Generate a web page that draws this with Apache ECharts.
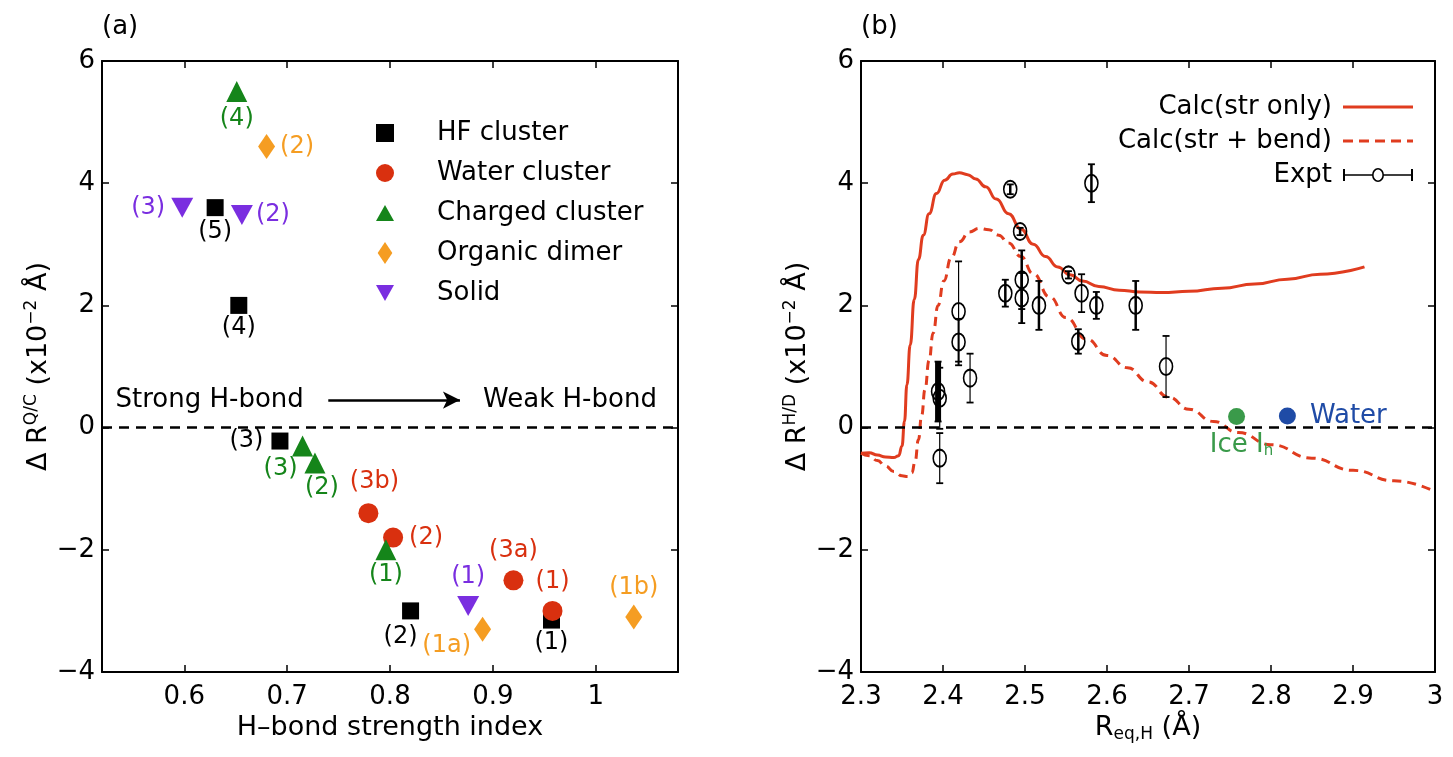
<!DOCTYPE html>
<html><head><meta charset="utf-8">
<script src="https://cdn.jsdelivr.net/npm/echarts@6/dist/echarts.min.js"></script>
<style>html,body{margin:0;padding:0;background:#fff}#chart{width:1453px;height:757px}</style>
</head><body><div id="chart"></div>
<script>
// ---------------- data ----------------
const hfCluster = [[0.630,3.60],[0.653,2.00],[0.693,-0.22],[0.820,-3.00],[0.957,-3.15]];
const hfLabels = ['(5)','(4)','(3)','(2)','(1)'];
const waterCluster = [[0.779,-1.40],[0.803,-1.80],[0.920,-2.50],[0.958,-3.00]];
const waterLabels = ['(3b)','(2)','(3a)','(1)'];
const chargedCluster = [[0.651,5.50],[0.715,-0.30],[0.727,-0.58],[0.796,-2.00]];
const chargedLabels = ['(4)','(3)','(2)','(1)'];
const organicDimer = [[0.680,4.60],[0.890,-3.30],[1.037,-3.10]];
const organicLabels = ['(2)','(1a)','(1b)'];
const solidPts = [[0.598,3.60],[0.656,3.48],[0.876,-2.92]];
const solidLabels = ['(3)','(2)','(1)'];
const annotationTexts = ['Strong H-bond','Weak H-bond'];
const annotationPos = [[0.6247,0.45],[0.975,0.45]];
const arrowFromTo = [[0.740,0.45],[0.868,0.45]];

const strengthTicks = [0.6,0.7,0.8,0.9,1];
const rTicks = [2.3,2.4,2.5,2.6,2.7,2.8,2.9,3];
const yTicks = [-4,-2,0,2,4,6];

const calcStrOnly = [[2.300,-0.42],[2.310,-0.41],[2.320,-0.45],[2.330,-0.48],[2.340,-0.49],[2.346,-0.46],
  [2.350,-0.30],[2.353,0.10],[2.356,0.70],[2.360,1.35],[2.365,2.10],[2.370,2.75],[2.376,3.15],[2.383,3.50],
  [2.392,3.83],[2.402,4.05],[2.412,4.15],[2.420,4.17],[2.430,4.14],[2.440,4.07],[2.452,3.94],[2.465,3.74],
  [2.480,3.50],[2.495,3.25],[2.510,3.00],[2.525,2.80],[2.540,2.63],[2.555,2.50],[2.570,2.40],[2.590,2.31],
  [2.615,2.25],[2.640,2.22],[2.667,2.21],[2.700,2.23],[2.740,2.28],[2.780,2.35],[2.820,2.43],[2.860,2.51],
  [2.914,2.63]];
const calcStrBend = [[2.300,-0.42],[2.310,-0.46],[2.320,-0.54],[2.330,-0.63],[2.340,-0.72],[2.350,-0.79],
  [2.357,-0.80],[2.362,-0.74],[2.366,-0.55],[2.370,-0.20],[2.374,0.20],[2.378,0.62],[2.383,1.10],[2.388,1.55],
  [2.394,2.00],[2.401,2.40],[2.410,2.78],[2.420,3.04],[2.432,3.20],[2.444,3.26],[2.456,3.24],[2.468,3.15],
  [2.480,3.02],[2.495,2.80],[2.510,2.52],[2.530,2.14],[2.550,1.80],[2.575,1.45],[2.600,1.18],[2.625,0.98],
  [2.650,0.75],[2.675,0.50],[2.700,0.30],[2.730,0.10],[2.760,-0.08],[2.800,-0.28],[2.850,-0.50],[2.900,-0.70],
  [2.950,-0.87],[3.000,-1.05]];
// [R, value, error]
const expt = [[2.482,3.90,0.08],[2.581,4.00,0.31],[2.494,3.21,0.06],[2.553,2.50,0.06],[2.476,2.20,0.22],
  [2.496,2.42,0.48],[2.496,2.12,0.41],[2.517,2.00,0.40],[2.569,2.20,0.31],[2.587,2.00,0.22],[2.635,2.00,0.40],
  [2.565,1.41,0.20],[2.672,1.00,0.50],[2.419,1.90,0.82],[2.419,1.40,0.38],[2.433,0.81,0.40],[2.394,0.59,0.49],
  [2.396,0.48,0.50],[2.396,-0.50,0.41]];
const iceIh = [[2.758,0.18]];
const waterLiquid = [[2.820,0.19]];

// ---------------- styles ----------------
const exptBarWidth = [2.5,2.5,2.5,2.5,2.5,2.5,2.5,2.5,1.5,2.5,2.5,2.5,1.2,1.2,2,1.2,6,1.2,1.2];
const FONT = 'DejaVu Sans';
const FS = 26;
const hfPlace = [{position:'bottom',distance:4},{position:'bottom',distance:2},{position:'left',distance:8},
  {position:'bottom',distance:5,offset:[-10,0]},{position:'bottom',distance:2}];
const waterPlace = [{position:'top',distance:9,offset:[6,0]},{position:'right',distance:6},{position:'top',distance:8},{position:'top',distance:7}];
const chargedPlace = [{position:'bottom',distance:5},{position:'bottom',distance:0,offset:[-22,0]},
  {position:'bottom',distance:2,offset:[7,0]},{position:'bottom',distance:2}];
const organicPlace = [{position:'right',distance:5},{position:'left',distance:3,offset:[0,17]},{position:'top',distance:5}];
const solidPlace = [{position:'left',distance:6},{position:'right',distance:3},{position:'top',distance:7}];

const C = {hf:'#000000', water:'#d9300f', charged:'#15851a', organic:'#f59d22', solid:'#7a2ee0',
  calc:'#e03c1f', ice:'#3a9a4a', liq:'#1f4ba6'};

function items(points, labels, place){
  return points.map((p,i)=>({value:p, name:labels[i], label:place[i]}));
}
function scatterSeries(name, color, symbol, size, points, labels, place, extra){
  return Object.assign({
    type:'scatter', name:name, xAxisIndex:0, yAxisIndex:0, symbol:symbol, symbolSize:size,
    symbolKeepAspect:false, itemStyle:{color:color, opacity:1}, silent:true, emphasis:{disabled:true},
    label:{show:true, formatter:'{b}', color:color, fontSize:24, fontFamily:FONT},
    data: items(points, labels, place)
  }, extra||{});
}
const downTri = 'path://M0,0L20,0L10,18Z';
const ellipse = 'path://M0,8A6,8 0 1,1 12,8A6,8 0 1,1 0,8Z';
const exptIcon = 'path://M0,1H2V13H0Z M2,6.2H29.2V7.8H2Z M29,7A6,7 0 1,1 41,7A6,7 0 1,1 29,7Z M30.6,7A4.4,5.4 0 1,0 39.4,7A4.4,5.4 0 1,0 30.6,7Z M40.8,6.2H68V7.8H40.8Z M68,1H70V13H68Z';
const solidIcon = 'path://M0,0H70V3.2H0Z';
const dashIcon = 'path://M0,0H10V3H0Z M16,0H26V3H16Z M32,0H42V3H32Z M48,0H58V3H48Z M64,0H70V3H64Z';

const axisLineStyle = {show:true, onZero:false, lineStyle:{color:'#000', width:2}};
const tickStyle = (vals)=>({show:true, inside:true, length:7, lineStyle:{color:'#000', width:1.5}, customValues:vals});
const labelFmt = v => (v < 0 ? '\u2212' + (-v) : String(v));
const nameStyle = {fontSize:27, fontFamily:FONT, color:'#000'};

function xAxes(grid, min, max, ticks, name){
  return [
    {gridIndex:grid, type:'value', min:min, max:max, position:'bottom', axisLine:axisLineStyle,
     axisTick:tickStyle(ticks), splitLine:{show:false},
     axisLabel:{customValues:ticks, fontSize:FS, fontFamily:FONT, color:'#000', margin:12, formatter:labelFmt},
     name:name, nameLocation:'middle', nameGap:40, nameTextStyle:Object.assign({}, nameStyle, {
       rich:{n:{fontSize:27, fontFamily:FONT, color:'#000', lineHeight:30},
             b:{fontSize:17, fontFamily:FONT, color:'#000', lineHeight:12, verticalAlign:'bottom'}}})},
    {gridIndex:grid, type:'value', min:min, max:max, position:'top', axisLine:axisLineStyle,
     axisTick:tickStyle(ticks), axisLabel:{show:false}, splitLine:{show:false}}
  ];
}
function yAxes(grid, name){
  return [
    {gridIndex:grid, type:'value', min:-4, max:6, interval:2, position:'left', axisLine:axisLineStyle,
     axisTick:tickStyle(yTicks), splitLine:{show:false},
     axisLabel:{customValues:yTicks, fontSize:FS, fontFamily:FONT, color:'#000', margin:7, formatter:labelFmt},
     name:name, nameLocation:'middle', nameGap:42, nameTextStyle:Object.assign({}, nameStyle, {
       rich:{n:{fontSize:27, fontFamily:FONT, color:'#000', lineHeight:30, verticalAlign:'bottom'},
             s:{fontSize:17, fontFamily:FONT, color:'#000', lineHeight:8, verticalAlign:'top'}}})},
    {gridIndex:grid, type:'value', min:-4, max:6, interval:2, position:'right', axisLine:axisLineStyle,
     axisTick:tickStyle(yTicks), axisLabel:{show:false}, splitLine:{show:false}}
  ];
}

const zeroLine = {silent:true, symbol:['none','none'], label:{show:false},
  lineStyle:{color:'#000', type:[10,7], width:2.5, opacity:1}, data:[{yAxis:0}]};

const exptBars = expt.map((d,i)=>[d[0], d[1], d[2], exptBarWidth[i]]);

const option = {
  animation:false,
  backgroundColor:'#fff',
  title:[
    {text:'(a)', left:102, top:14, padding:0, textStyle:{fontSize:FS, fontWeight:'normal', fontFamily:FONT, color:'#000'}},
    {text:'(b)', left:861, top:14, padding:0, textStyle:{fontSize:FS, fontWeight:'normal', fontFamily:FONT, color:'#000'}}
  ],
  grid:[
    {left:102, right:775, top:61, bottom:85},
    {left:861, right:18, top:61, bottom:85}
  ],
  legend:[
    {orient:'vertical', left:376, top:120, padding:0, itemWidth:18, itemHeight:22, itemGap:14,
     selectedMode:false, symbolKeepAspect:true,
     textStyle:{fontSize:FS, fontFamily:FONT, color:'#000', lineHeight:26, padding:[0,0,0,38]},
     data:[
       {name:'HF cluster', icon:'path://M0,0H10V10H0Z'},
       {name:'Water cluster', icon:'circle'},
       {name:'Charged cluster', icon:'path://M10,0L20,18L0,18Z'},
       {name:'Organic dimer', icon:'path://M8,0L16,12L8,24L0,12Z'},
       {name:'Solid', icon:'path://M0,0L20,0L10,18Z'}
     ]},
    {orient:'vertical', right:40, top:94, padding:0, itemWidth:70, itemHeight:14, itemGap:8, align:'right',
     selectedMode:false, symbolKeepAspect:true,
     textStyle:{fontSize:FS, fontFamily:FONT, color:'#000', lineHeight:26, padding:[0,6,0,0]},
     data:[
       {name:'Calc(str only)', icon:solidIcon, itemStyle:{color:C.calc, borderWidth:0}},
       {name:'Calc(str + bend)', icon:dashIcon, itemStyle:{color:C.calc, borderWidth:0}},
       {name:'Expt', icon:exptIcon, itemStyle:{color:'#000', borderWidth:0}}
     ]}
  ],
  xAxis:[].concat(
    xAxes(0, 0.52, 1.08, strengthTicks, 'H\u2013bond strength index'),
    xAxes(1, 2.3, 3.0, rTicks, '{n|R}{b|eq,H}{n| (\u00c5)}')
  ),
  yAxis:[].concat(
    yAxes(0, '{n|\u0394 R}{s|Q/C}{n| (x10}{s|\u22122}{n| \u00c5)}'),
    yAxes(1, '{n|\u0394 R}{s|H/D}{n| (x10}{s|\u22122}{n| \u00c5)}')
  ),
  series:[
    // ----- panel (a)
    scatterSeries('HF cluster', C.hf, 'rect', 17, hfCluster, hfLabels, hfPlace, {markLine:zeroLine}),
    scatterSeries('Water cluster', C.water, 'circle', 20, waterCluster, waterLabels, waterPlace),
    scatterSeries('Charged cluster', C.charged, 'triangle', 21, chargedCluster, chargedLabels, chargedPlace),
    scatterSeries('Organic dimer', C.organic, 'diamond', [17,25], organicDimer, organicLabels, organicPlace),
    scatterSeries('Solid', C.solid, downTri, [22,20], solidPts, solidLabels, solidPlace),
    {type:'scatter', name:'annotation', xAxisIndex:0, yAxisIndex:0, symbolSize:0, silent:true,
     itemStyle:{opacity:1},
     label:{show:true, position:'inside', formatter:'{b}', fontSize:FS, fontFamily:FONT, color:'#000', opacity:1},
     data: annotationPos.map((p,i)=>({value:p, name:annotationTexts[i]})),
     markLine:{silent:true, symbol:['none','arrow'], symbolSize:[13,17], label:{show:false},
       lineStyle:{color:'#000', type:'solid', width:2.5, opacity:1},
       data:[[{coord:arrowFromTo[0]},{coord:arrowFromTo[1]}]]}},
    // ----- panel (b)
    {type:'line', name:'Calc(str only)', xAxisIndex:2, yAxisIndex:2, data:calcStrOnly, showSymbol:false,
     symbol:'none', smooth:0.5, smoothMonotone:'x', silent:true, z:2,
     itemStyle:{color:C.calc}, lineStyle:{color:C.calc, width:3}, markLine:zeroLine},
    {type:'line', name:'Calc(str + bend)', xAxisIndex:2, yAxisIndex:2, data:calcStrBend, showSymbol:false,
     symbol:'none', smooth:0.5, smoothMonotone:'x', silent:true, z:2,
     itemStyle:{color:C.calc}, lineStyle:{color:C.calc, width:3, type:[9,6]}},
    {type:'custom', name:'Expt bars', xAxisIndex:2, yAxisIndex:2, data:exptBars, silent:true, z:3,
     encode:{x:0, y:1},
     renderItem:function(params, api){
       const x = api.value(0), y = api.value(1), e = api.value(2), w = api.value(3);
       const p1 = api.coord([x, y + e]), p2 = api.coord([x, y - e]);
       const cap = 3.5;
       return {type:'group', children:[
         {type:'line', shape:{x1:p1[0], y1:p1[1], x2:p2[0], y2:p2[1]}, style:{stroke:'#000', lineWidth:w}},
         {type:'line', shape:{x1:p1[0]-cap, y1:p1[1], x2:p1[0]+cap, y2:p1[1]}, style:{stroke:'#000', lineWidth:1.8}},
         {type:'line', shape:{x1:p2[0]-cap, y1:p2[1], x2:p2[0]+cap, y2:p2[1]}, style:{stroke:'#000', lineWidth:1.8}}
       ]};
     }},
    {type:'scatter', name:'Expt', xAxisIndex:2, yAxisIndex:2, data:expt.map(d=>[d[0], d[1]]),
     symbol:ellipse, symbolSize:[13,17], symbolKeepAspect:false, silent:true, z:4,
     itemStyle:{color:'rgba(0,0,0,0)', borderColor:'#000', borderWidth:1.8, opacity:1}},
    {type:'scatter', name:'Ice', xAxisIndex:2, yAxisIndex:2, data:iceIh, symbol:'circle', symbolSize:17,
     silent:true, z:4, itemStyle:{color:C.ice, opacity:1},
     label:{show:true, position:'bottom', distance:6, offset:[5,0], formatter:'{n|Ice I}{b|h}',
       rich:{n:{fontSize:FS, fontFamily:FONT, color:C.ice, lineHeight:28},
             b:{fontSize:15, fontFamily:FONT, color:C.ice, lineHeight:10, verticalAlign:'bottom'}}}},
    {type:'scatter', name:'Water', xAxisIndex:2, yAxisIndex:2, data:waterLiquid, symbol:'circle', symbolSize:17,
     silent:true, z:4, itemStyle:{color:C.liq, opacity:1},
     label:{show:true, position:'right', distance:14, formatter:'Water', fontSize:FS, fontFamily:FONT, color:C.liq}}
  ]
};
const chart = echarts.init(document.getElementById('chart'));
chart.setOption(option);
</script></body></html>
